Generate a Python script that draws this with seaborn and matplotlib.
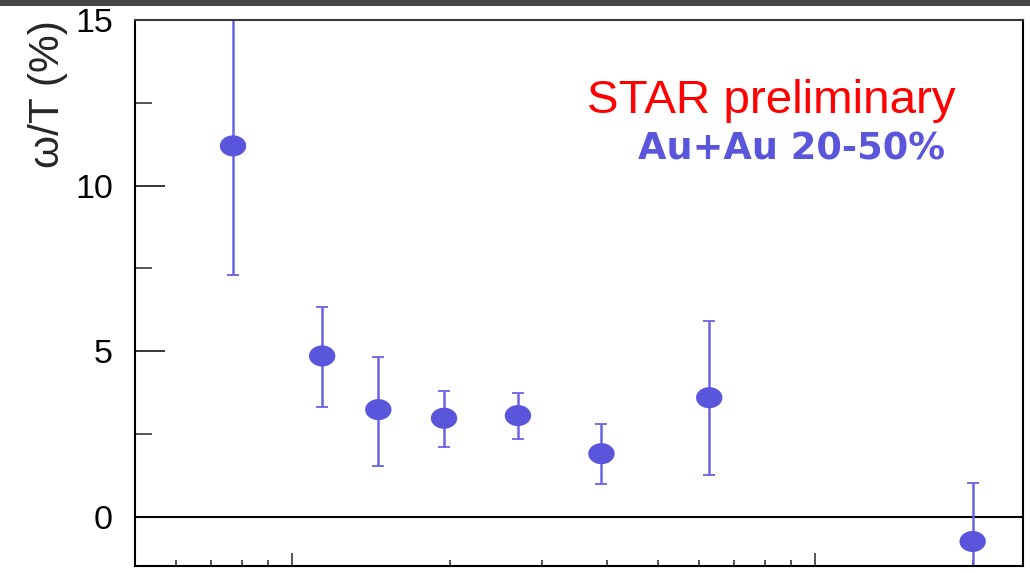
import numpy as np
import pandas as pd
import matplotlib
matplotlib.use("Agg")
import matplotlib.pyplot as plt
import seaborn as sns
from matplotlib.path import Path
from matplotlib.patches import Rectangle
from matplotlib.ticker import MultipleLocator, LogLocator, NullFormatter, FixedLocator

# ---- data ----
x_vals = [0.77, 1.14, 1.46, 1.95, 2.70, 3.90, 6.27, 20.0]
y_vals = [11.2, 4.86, 3.24, 2.98, 3.06, 1.91, 3.60, -0.74]
err_up = [3.80, 1.47, 1.59, 0.82, 0.68, 0.90, 2.31, 1.77]
err_lo = [3.91, 1.53, 1.69, 0.86, 0.70, 0.93, 2.32, 1.77]
y_ticks = [0, 5, 10, 15]
y_tick_labels = ["0", "5", "10", "15"]
x_major = [1, 10]

df = pd.DataFrame({"x": x_vals, "y": y_vals})

sns.set_theme(style="ticks")
plt.rcParams["font.family"] = ["Liberation Sans", "DejaVu Sans"]

fig = plt.figure(figsize=(10.30, 5.73), dpi=100)
fig.patch.set_facecolor("white")
# dark strip at the very top of the screenshot
fig.patches.append(Rectangle((0, 1 - 6 / 573), 1, 6 / 573, transform=fig.transFigure,
                             facecolor="#474747", edgecolor="none", zorder=0))

ax = fig.add_axes([135 / 1030, 7 / 573, 888.3 / 1030, 546 / 573])
ax.set_facecolor("white")

blue = "#5a56dc"
ax.errorbar(df["x"], df["y"], yerr=[err_lo, err_up], fmt="none", ecolor="#6864e6",
            elinewidth=1.8, capsize=4.3, capthick=1.3, zorder=2)

theta = np.linspace(0, 2 * np.pi, 60)
ellipse = Path(np.column_stack([1.25 * np.cos(theta), np.sin(theta)]), closed=True)
sns.scatterplot(data=df, x="x", y="y", marker=ellipse, s=360, color=blue,
                edgecolor="none", linewidth=0, ax=ax, zorder=3, legend=False)

ax.axhline(0, color="black", lw=1.5, zorder=1)

ax.set_xscale("log")
ax.set_xlim(0.5, 25)
ax.set_ylim(-1.48, 15)

ax.xaxis.set_major_locator(FixedLocator(x_major))
ax.xaxis.set_minor_locator(LogLocator(base=10, subs=np.arange(2, 10)))
ax.xaxis.set_major_formatter(NullFormatter())
ax.xaxis.set_minor_formatter(NullFormatter())
ax.set_yticks(y_ticks)
ax.set_yticklabels(y_tick_labels)
ax.yaxis.set_minor_locator(MultipleLocator(2.5))

ax.tick_params(axis="y", which="major", direction="in", length=21.5, width=1.1,
               labelsize=24.5, pad=16, colors="black", left=True, right=False)
ax.tick_params(axis="y", which="minor", direction="in", length=12, width=1.1,
               left=True, right=False)
ax.tick_params(axis="x", which="major", direction="in", length=9.5, width=1.1,
               bottom=True, top=False, labelbottom=False)
ax.tick_params(axis="x", which="minor", direction="in", length=4.3, width=1.1,
               bottom=True, top=False)

for side, sp in ax.spines.items():
    sp.set_visible(True)
    sp.set_linewidth(1.5)
    sp.set_color("black")
ax.spines["top"].set_color("#3a3a3a")

ax.set_xlabel("")
ax.set_ylabel("ω/T (%)", loc="top", fontsize=30.5)
ax.yaxis.set_label_coords(-0.0754, 1.0)

ax.text(0.509, 0.8297, "STAR preliminary", transform=ax.transAxes, color="#ff0000",
        fontsize=34.2, ha="left", va="baseline")
ax.text(0.912, 0.7436, "Au+Au 20-50%", transform=ax.transAxes, color=blue,
        fontsize=26.5, fontweight="bold", family=["DejaVu Sans"], ha="right", va="baseline")

fig.savefig("out.png", dpi=100)
